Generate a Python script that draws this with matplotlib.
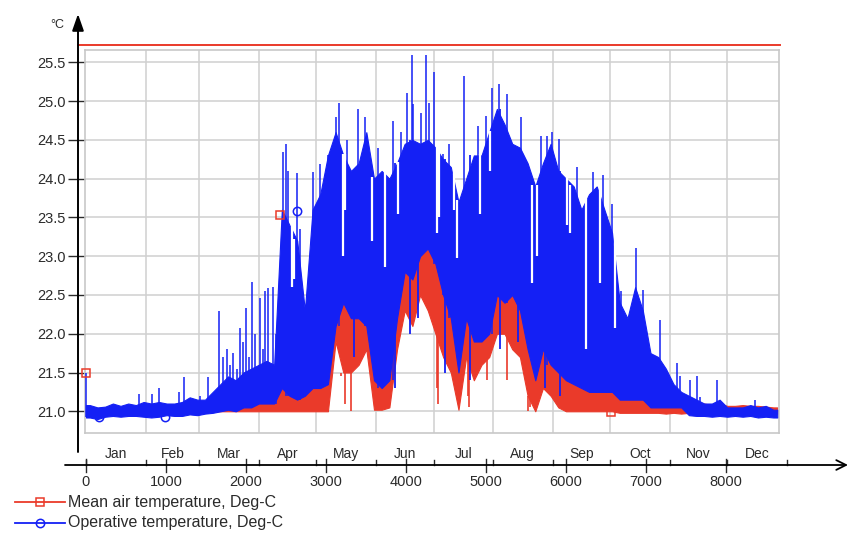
import numpy as np
import matplotlib.pyplot as plt

plt.rcParams['font.family'] = ['Liberation Sans', 'DejaVu Sans']

# hourly simulation, summarised in 4-day blocks (96 h each, hour 0 .. 8640)
blue_hi = [21.08, 21.05, 21.06, 21.10, 21.07, 21.10, 21.08, 21.12, 21.10, 21.12,
           21.10, 21.10, 21.12, 21.18, 21.15,
           21.15, 21.25, 21.35, 21.45, 21.40, 21.50, 21.55, 21.60, 21.65, 21.60,
           23.60, 23.40, 23.20, 22.30, 23.60, 23.80,
           24.30, 24.60, 24.30, 24.10, 24.20, 24.60, 24.00, 24.10, 24.00, 24.20,
           24.45, 24.50, 24.45, 24.50, 24.40, 24.25, 24.15, 23.70,
           24.00, 24.30, 24.30, 24.60, 24.90, 24.70, 24.45, 24.40, 24.20, 23.90,
           24.20, 24.45, 24.10, 24.00, 23.90, 23.60, 23.80, 23.90, 23.60, 23.30,
           22.40, 22.20, 22.60, 22.30, 21.75, 21.70, 21.55, 21.35, 21.25, 21.20,
           21.15, 21.10, 21.10, 21.15, 21.05, 21.05, 21.05, 21.08, 21.05, 21.07, 21.02]
blue_lo = [20.92, 20.90, 20.93, 20.94, 20.93, 20.94, 20.94, 20.93, 20.92, 20.93,
           20.95, 20.94, 20.94, 20.96, 20.95,
           20.97, 20.98, 21.00, 21.02, 21.00, 21.05, 21.05, 21.10, 21.10, 21.10,
           21.30, 21.20, 21.15, 21.20, 21.30, 21.30,
           21.35, 22.10, 22.40, 22.20, 22.20, 22.10, 21.40, 21.30, 21.40, 22.20,
           22.80, 22.70, 23.00, 23.10, 22.90, 22.50, 22.20, 21.50,
           22.20, 21.90, 21.90, 22.00, 22.50, 22.40, 22.50, 22.30, 21.80, 21.40,
           21.80, 21.60, 21.50, 21.40, 21.35, 21.30, 21.25, 21.25, 21.25, 21.25,
           21.15, 21.15, 21.15, 21.15, 21.05, 21.05, 21.05, 21.05, 21.05, 20.95,
           20.94, 20.94, 20.93, 20.94, 20.93, 20.94, 20.93, 20.94, 20.92, 20.93, 20.92]
red_hi = [21.06, 21.04, 21.05, 21.06, 21.05, 21.07, 21.05, 21.06, 21.05, 21.06,
          21.07, 21.06, 21.08, 21.08, 21.08,
          21.08, 21.08, 21.10, 21.12, 21.12, 21.15, 21.12, 21.15, 21.18, 21.20,
          21.50, 21.30, 21.20, 21.30, 21.35, 21.40,
          21.40, 22.60, 23.00, 22.60, 22.60, 22.90, 22.60, 22.80, 22.60, 22.90,
          23.10, 23.20, 23.20, 23.35, 23.00, 22.90, 22.80, 22.60,
          22.70, 22.80, 22.80, 22.80, 23.30, 23.00, 22.90, 22.80, 22.60, 22.40,
          22.50, 22.40, 22.10, 22.00, 21.90, 21.60, 21.50, 21.50, 21.45, 21.40,
          21.25, 21.20, 21.25, 21.20, 21.15, 21.12, 21.10, 21.10, 21.10, 21.08,
          21.08, 21.10, 21.08, 21.10, 21.07, 21.07, 21.08, 21.07, 21.07, 21.06, 21.05]
red_lo = [20.98, 20.97, 20.98, 20.99, 20.98, 20.99, 20.98, 20.98, 20.97, 20.98,
          20.99, 20.98, 20.99, 21.00, 20.99,
          20.99, 21.00, 21.00, 21.00, 21.00, 21.00, 21.00, 21.00, 21.00, 21.00,
          21.00, 21.00, 21.00, 21.00, 21.00, 21.00,
          21.00, 21.90, 21.50, 21.50, 21.60, 21.80, 21.02, 21.02, 21.05, 21.80,
          22.30, 22.10, 22.50, 22.30, 22.00, 21.70, 21.50, 21.02,
          21.70, 21.40, 21.60, 21.70, 22.00, 22.00, 21.80, 21.70, 21.20, 21.00,
          21.30, 21.20, 21.05, 21.00, 21.00, 21.00, 21.00, 21.00, 21.00, 21.00,
          20.98, 20.98, 20.98, 20.98, 20.98, 20.98, 20.97, 20.98, 20.97, 20.98,
          20.97, 20.98, 20.97, 20.98, 20.97, 20.98, 20.97, 20.98, 20.97, 20.98, 20.97]

# single-hour peaks above the daily band (operative temperature)
spike_hours = [0, 662, 825, 912, 1162, 1225, 1425, 1525,
               1662, 1712, 1762, 1800, 1837, 1887, 1925, 1962, 2000, 2037, 2075, 2112,
               2175, 2212, 2237, 2275, 2337, 2375, 2462, 2500, 2525, 2637, 2675, 2837,
               2925, 2987, 3025,
               3125, 3162, 3262, 3400, 3487, 3650, 3837, 3937, 4012, 4075, 4087, 4187,
               4250, 4287, 4350, 4462, 4537, 4725, 4900, 5000, 5075, 5162, 5262, 5437,
               5687, 5762, 5825, 5912, 6137, 6337, 6462,
               6575, 6687, 6875, 6962, 7175, 7275, 7387, 7425, 7550, 7637, 7675, 7887, 8362]
spike_vals = [21.50, 21.22, 21.22, 21.30, 21.25, 21.44, 21.20, 21.44,
              22.30, 21.70, 21.80, 21.60, 21.75, 21.55, 22.08, 21.90, 22.33, 21.70, 22.67, 22.00,
              22.46, 21.80, 22.55, 22.59, 22.60, 22.00, 24.35, 24.45, 24.10, 24.07, 23.35, 24.08,
              24.19, 23.78, 24.30,
              24.79, 24.98, 24.50, 24.90, 24.79, 24.40, 24.75, 24.60, 25.10, 25.60, 24.96, 24.85,
              25.60, 24.98, 25.37, 24.32, 24.45, 25.33, 24.68, 24.81, 25.17, 25.22, 25.09, 24.79,
              24.55, 24.55, 24.60, 24.51, 24.15, 24.08, 24.05,
              23.68, 22.55, 23.10, 22.56, 22.18, 21.45, 21.62, 21.45, 21.40, 21.45, 21.19, 21.40, 21.15]

# cloudy days: gaps in the operative band
dip_hours = [3212, 3237, 3575, 3737, 3900, 4387, 4412, 4600, 4637, 4925, 5050, 5575,
             5637, 6012, 6050, 6250, 6425, 6612, 2575, 2600]
dip_vals = [23.00, 23.59, 23.20, 22.86, 23.55, 23.30, 23.50, 23.60, 22.98, 23.55, 24.10, 22.65,
            23.00, 23.40, 23.30, 21.80, 22.65, 22.08, 22.60, 22.70]

# operative temperature streaks reaching down into the night band
blue_low_hours = [3862, 4050, 4487, 4800, 5175, 5737, 5925, 3350, 4150, 5400]
blue_low_vals = [21.30, 22.00, 21.50, 21.40, 21.80, 21.30, 21.20, 21.70, 22.20, 21.90]

# mean air temperature drops at night
red_dip_hours = [3187, 3237, 3312, 3325, 4387, 4400, 4775, 4787, 5012, 5262, 5525, 5550]
red_dip_vals = [21.45, 21.10, 21.00, 21.50, 21.30, 21.10, 21.20, 21.05, 21.40, 21.40, 21.00, 21.05]

red_mark_h = [0, 2425, 6560]
red_mark_v = [21.50, 23.53, 20.99]
blue_mark_h = [162, 987, 2633]
blue_mark_v = [20.92, 20.93, 23.58]

upper_line = 25.73

month_starts = [0, 744, 1416, 2160, 2880, 3624, 4344, 5088, 5832, 6552, 7296, 8016, 8760]
months = ['Jan', 'Feb', 'Mar', 'Apr', 'May', 'Jun', 'Jul', 'Aug', 'Sep', 'Oct', 'Nov', 'Dec']
x_ticks = [0, 1000, 2000, 3000, 4000, 5000, 6000, 7000, 8000]
y_ticks = [21.0, 21.5, 22.0, 22.5, 23.0, 23.5, 24.0, 24.5, 25.0, 25.5]

RED = '#ea3a2a'
BLUE = '#1420f5'
TXT = '#2a2a2a'

fig = plt.figure(figsize=(8.5, 5.36), dpi=100)
L, R, T, B = 85, 779, 50, 433
ax = fig.add_axes([L / 850, (536 - B) / 536, (R - L) / 850, (B - T) / 536])


def fx(px):
    return (px - L) / (R - L)


def fy(py):
    return (B - py) / (B - T)


def seg_of(hours):
    return np.minimum(np.array(hours) // 96, len(blue_hi) - 1)


def ends(vals):
    # hold the first / last block value out to the ends of the run
    return np.r_[vals[0], vals, vals[-1]]


n = len(blue_hi)
seg_h = np.r_[0, np.arange(n) * 96 + 48, n * 96]
ax.fill_between(seg_h, ends(red_lo), ends(red_hi), color=RED, lw=0.8, zorder=2)
ax.fill_between(seg_h, ends(blue_lo), ends(blue_hi), color=BLUE, lw=0.8, zorder=3)

ax.vlines(red_dip_hours, red_dip_vals, np.array(red_lo)[seg_of(red_dip_hours)],
          color=RED, lw=1.2, zorder=2)
ax.vlines(spike_hours, np.array(blue_lo)[seg_of(spike_hours)], spike_vals,
          color=BLUE, lw=1.1, zorder=3)
ax.vlines(blue_low_hours, blue_low_vals, np.array(blue_hi)[seg_of(blue_low_hours)],
          color=BLUE, lw=1.3, zorder=3)
ax.vlines(dip_hours, dip_vals, np.array(blue_hi)[seg_of(dip_hours)] + 0.02,
          color='white', lw=1.6, zorder=4)

ax.plot(red_mark_h, red_mark_v, 's', ms=6, mfc='none', mec=RED, mew=1.1, zorder=5, clip_on=False)
ax.plot(blue_mark_h, blue_mark_v, 'o', ms=6, mfc='none', mec=BLUE, mew=1.1, zorder=5, clip_on=False)

ax.plot([fx(78), fx(780)], [upper_line, upper_line], color=RED, lw=1.4,
        transform=ax.get_yaxis_transform(), clip_on=False)

ax.set_xlim(-12.5, 8662.5)
ax.set_ylim(20.72, 25.66)
ax.set_xticks(month_starts[1:12])
ax.tick_params(axis='x', length=0, labelbottom=False)
ax.set_yticks(y_ticks)
ax.set_yticklabels([f'{v:.1f}' for v in y_ticks])
ax.tick_params(axis='y', length=12.3, width=1.0, color=TXT, pad=1.5, labelsize=10.5,
               labelcolor=TXT)
ax.grid(True, color='#d0d0d0', lw=1.1)
ax.set_axisbelow(True)
for s in ax.spines.values():
    s.set_color('#c8c8c8')
    s.set_linewidth(1.2)

# axis lines with arrows
ax.annotate('', xy=(fx(78), fy(14)), xytext=(fx(78), fy(452)), xycoords='axes fraction',
            arrowprops=dict(arrowstyle='-|>,head_length=1.0,head_width=0.35', color='black',
                            lw=1.4, shrinkA=0, shrinkB=0), annotation_clip=False)
ax.annotate('', xy=(fx(848), fy(465)), xytext=(fx(65), fy(465)), xycoords='axes fraction',
            arrowprops=dict(arrowstyle='->,head_length=0.7,head_width=0.35', color='black',
                            lw=1.3, shrinkA=0, shrinkB=0), annotation_clip=False)
ax.text(fx(57), fy(25), '°C', transform=ax.transAxes, ha='center', va='center',
        fontsize=9, color=TXT)

tr = ax.get_xaxis_transform()
for h in x_ticks:
    ax.plot([h, h], [fy(459), fy(472)], color=TXT, lw=1.0, transform=tr, clip_on=False)
    ax.text(h, fy(482), str(h), transform=tr, ha='center', va='center', fontsize=10.5,
            color=TXT)
for h in month_starts:
    ax.plot([h, h], [fy(460), fy(465)], color=TXT, lw=1.0, transform=tr, clip_on=False)
for i, m in enumerate(months):
    mid = (month_starts[i] + month_starts[i + 1]) / 2
    ax.text(mid, fy(454), m, transform=tr, ha='center', va='center', fontsize=10,
            color=TXT)

# legend
for yy, col, mk, lab in [(502, RED, 's', 'Mean air temperature, Deg-C'),
                         (523, BLUE, 'o', 'Operative temperature, Deg-C')]:
    fig.add_artist(plt.Line2D([15 / 850, 65 / 850], [1 - yy / 536, 1 - yy / 536],
                              color=col, lw=1.3))
    fig.add_artist(plt.Line2D([40 / 850], [1 - yy / 536], marker=mk, ms=6, mfc='none',
                              mec=col, mew=1.1))
    fig.text(68 / 850, 1 - yy / 536, lab, ha='left', va='center', fontsize=11.5, color=TXT)

fig.savefig('out.png', dpi=100)
